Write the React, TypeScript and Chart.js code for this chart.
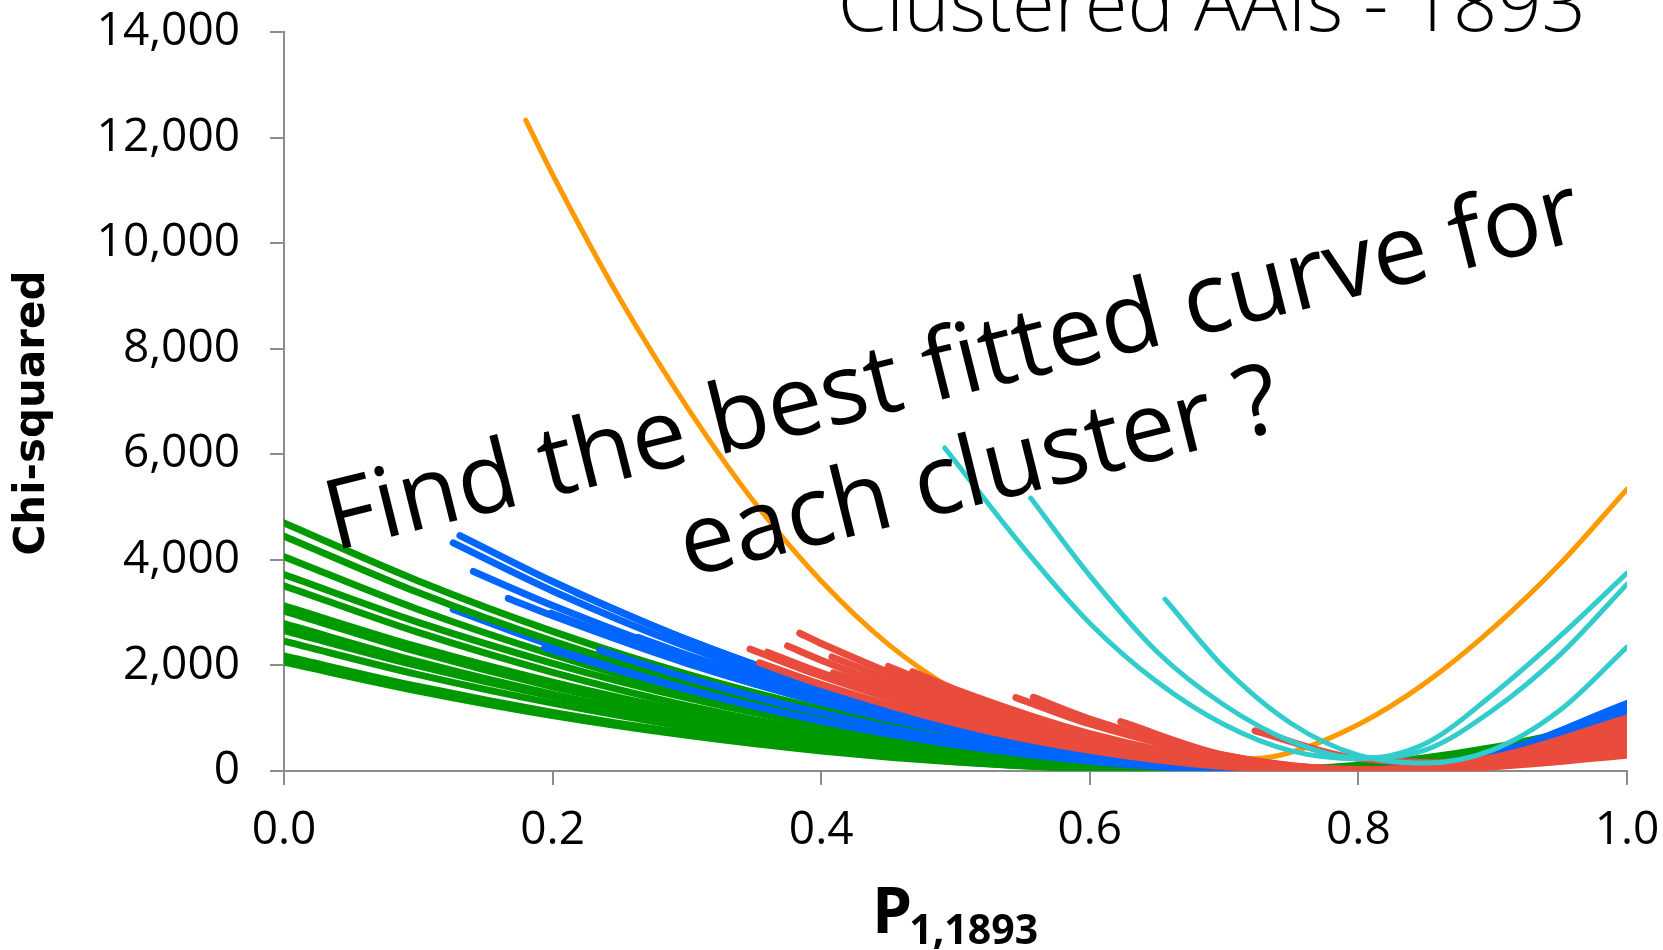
import React, { useEffect, useRef } from "react";
import { Chart, registerables } from "chart.js";

Chart.register(...registerables);

// ---------- Text ----------
const chartTitle = "Clustered AAIs - 1893";
const yAxisTitle = "Chi-squared";
const xAxisTitleMain = "P";
const xAxisTitleSub = "1,1893";
const overlayLines = ["Find the best fitted curve for", "each cluster ?"];

// ---------- Axes ----------
const xMin = 0;
const xMax = 1;
const xStep = 0.2;
const yMin = 0;
const yMax = 14000;
const yStep = 2000;

// ---------- Green cluster (all start at P = 0) ----------
const greenX = [0, 0.1, 0.2, 0.3, 0.4, 0.5, 0.6, 0.7, 0.8, 0.9, 1.0];
const greenY = [
  [4700, 3600, 2645, 1835, 1175, 660, 295, 75, 20, 175, 700],
  [4450, 3380, 2460, 1690, 1055, 575, 235, 50, 20, 340, 1150],
  [4060, 3060, 2205, 1485, 910, 475, 180, 30, 25, 205, 600],
  [3720, 2815, 2040, 1385, 860, 460, 180, 35, 20, 260, 820],
  [3510, 2625, 1870, 1240, 740, 370, 125, 15, 30, 190, 500],
  [3130, 2350, 1685, 1125, 680, 345, 125, 20, 30, 235, 650],
  [3030, 2255, 1595, 1050, 620, 300, 95, 10, 60, 355, 900],
  [2790, 2070, 1455, 950, 550, 260, 80, 10, 40, 185, 450],
  [2660, 1990, 1415, 940, 560, 280, 95, 15, 30, 210, 560],
  [2460, 1825, 1285, 835, 485, 230, 70, 10, 55, 290, 700],
  [2180, 1600, 1110, 710, 400, 180, 45, 10, 110, 445, 1000],
  [2060, 1515, 1050, 675, 380, 170, 45, 10, 60, 230, 520],
];

// ---------- Blue cluster ----------
const blueStartX = [0.131, 0.126, 0.141, 0.167, 0.199, 0.218, 0.264, 0.194, 0.235, 0.126];
const blueStartY = [4460, 4320, 3780, 3270, 2990, 3370, 2530, 2340, 2290, 3060];
const blueX = [0.2, 0.3, 0.4, 0.5, 0.6, 0.7, 0.8, 0.9, 1.0];
const blueY = [
  [3590, 2490, 1595, 895, 400, 100, 20, 320, 1280],
  [3410, 2355, 1490, 825, 355, 80, 25, 335, 1240],
  [3135, 2175, 1395, 785, 350, 90, 20, 275, 1100],
  [2940, 2040, 1305, 735, 325, 80, 20, 115, 460],
  [null, 2055, 1300, 720, 310, 70, 20, 245, 900],
  [null, 2490, 1590, 895, 400, 100, 20, 150, 600],
  [null, 2200, 1410, 795, 350, 90, 20, 250, 1000],
  [2290, 1545, 945, 495, 185, 30, 20, 130, 380],
  [null, 1765, 1095, 585, 230, 40, 20, 240, 750],
  [2375, 1590, 965, 490, 175, 20, 20, 180, 500],
];

// ---------- Red cluster ----------
const redStartX = [0.347, 0.36, 0.375, 0.384, 0.354, 0.408, 0.409, 0.45, 0.468, 0.545, 0.558, 0.623, 0.723];
const redStartY = [2310, 2250, 2370, 2610, 2050, 2160, 1860, 1980, 1880, 1390, 1395, 934, 760];
const redX = [0.4, 0.5, 0.6, 0.7, 0.8, 0.9, 1.0];
const redY = [
  [1800, 1015, 450, 115, 20, 250, 1000],
  [1860, 1045, 465, 115, 20, 232, 930],
  [2100, 1180, 525, 130, 20, 180, 720],
  [2415, 1380, 635, 175, 20, 175, 780],
  [1640, 905, 390, 85, 20, 95, 340],
  [null, 1265, 560, 140, 20, 163, 650],
  [null, 1075, 460, 105, 20, 80, 300],
  [null, 1470, 675, 185, 20, 125, 560],
  [null, 1545, 710, 195, 20, 94, 420],
  [null, null, 890, 265, 30, 174, 880],
  [null, null, 985, 295, 30, 140, 700],
  [null, null, null, 300, 20, 95, 380],
  [null, null, null, null, 240, 150, 450],
];

// ---------- Orange (single curve) ----------
const orangeX = [0.18, 0.2, 0.25, 0.3, 0.35, 0.4, 0.45, 0.5, 0.55, 0.6, 0.65, 0.7, 0.72, 0.75, 0.8, 0.85, 0.9, 0.95, 1.0];
const orangeY = [12330, 11300, 8950, 6900, 5100, 3600, 2400, 1520, 900, 510, 300, 235, 230, 355, 880, 1670, 2700, 3920, 5340];

// ---------- Cyan cluster ----------
const cyan1X = [0.492, 0.55, 0.6, 0.65, 0.7, 0.75, 0.8, 0.85, 0.9, 0.95, 1.0];
const cyan1Y = [6120, 4250, 2800, 1690, 880, 380, 230, 520, 1450, 2550, 3750];
const cyan2X = [0.556, 0.6, 0.65, 0.7, 0.75, 0.8, 0.85, 0.9, 0.95, 1.0];
const cyan2Y = [5170, 3700, 2260, 1250, 560, 250, 400, 1150, 2200, 3540];
const cyan3X = [0.656, 0.7, 0.75, 0.8, 0.85, 0.9, 0.95, 1.0];
const cyan3Y = [3255, 1960, 900, 300, 150, 400, 1150, 2350];

// ---------- Styles ----------
const GREEN = "#009900";
const BLUE = "#0066ff";
const RED = "#e94b3c";
const ORANGE = "#ff9900";
const CYAN = "#33cccc";
const AXIS = "#8c8c8c";
const TICK_FONT = { family: "'Open Sans', 'Noto Sans', sans-serif", size: 46, weight: "normal" as const };

const lineStyle = {
  pointRadius: 0,
  pointHoverRadius: 0,
  fill: false,
  cubicInterpolationMode: "monotone" as const,
  borderCapStyle: "round" as const,
  borderJoinStyle: "round" as const,
};

function pts(xs: number[], ys: (number | null)[]) {
  const out: { x: number; y: number }[] = [];
  xs.forEach((x, i) => {
    const y = ys[i];
    if (y !== null && y !== undefined) out.push({ x, y });
  });
  return out;
}

function buildDatasets() {
  const ds: any[] = [];
  greenY.forEach((row, i) => {
    ds.push({ ...lineStyle, label: `Green ${i + 1}`, data: pts(greenX, row), borderColor: GREEN, borderWidth: 7, order: 5 });
  });
  blueY.forEach((row, i) => {
    const grid = pts(blueX, row).filter((p) => p.x > blueStartX[i]);
    // the last blue curve sits behind the green bundle
    const order = i === blueY.length - 1 ? 6 : 4;
    ds.push({ ...lineStyle, label: `Blue ${i + 1}`, data: [{ x: blueStartX[i], y: blueStartY[i] }, ...grid], borderColor: BLUE, borderWidth: 7, order });
  });
  ds.push({ ...lineStyle, label: "Orange", data: pts(orangeX, orangeY), borderColor: ORANGE, borderWidth: 5, order: 3 });
  redY.forEach((row, i) => {
    const grid = pts(redX, row).filter((p) => p.x > redStartX[i]);
    ds.push({ ...lineStyle, label: `Red ${i + 1}`, data: [{ x: redStartX[i], y: redStartY[i] }, ...grid], borderColor: RED, borderWidth: 7, order: 2 });
  });
  [
    [cyan1X, cyan1Y],
    [cyan2X, cyan2Y],
    [cyan3X, cyan3Y],
  ].forEach(([xs, ys], i) => {
    ds.push({ ...lineStyle, label: `Cyan ${i + 1}`, data: pts(xs as number[], ys as number[]), borderColor: CYAN, borderWidth: 5, order: 1 });
  });
  return ds;
}

const textPlugin = {
  id: "extraText",
  afterDraw(chart: any) {
    const ctx: CanvasRenderingContext2D = chart.ctx;
    ctx.save();
    ctx.fillStyle = "#000";

    // Chart title (partly cut off at the top)
    ctx.textAlign = "center";
    ctx.textBaseline = "alphabetic";
    ctx.font = "300 60px 'Open Sans', sans-serif";
    const tw = ctx.measureText(chartTitle).width;
    const tSize = (60 * 748) / tw;
    ctx.font = `300 ${tSize}px 'Open Sans', sans-serif`;
    ctx.fillText(chartTitle, 1212, 31);

    // Y axis title (rotated)
    ctx.save();
    ctx.translate(33, 413);
    ctx.rotate(-Math.PI / 2);
    ctx.textAlign = "center";
    ctx.textBaseline = "middle";
    ctx.font = "bold 42px 'DejaVu Sans', sans-serif";
    ctx.fillText(yAxisTitle, 0, 0);
    ctx.restore();

    // X axis title with subscript
    ctx.textAlign = "left";
    ctx.font = "bold 64px 'Open Sans', sans-serif";
    ctx.fillText(xAxisTitleMain, 872, 933);
    const pw = ctx.measureText(xAxisTitleMain).width;
    ctx.font = "bold 41px 'Open Sans', sans-serif";
    ctx.fillText(xAxisTitleSub, 872 + pw - 3, 944);

    // Rotated overlay text
    ctx.translate(960, 395);
    ctx.rotate((-14 * Math.PI) / 180);
    ctx.textAlign = "center";
    ctx.font = "400 90px 'Open Sans', sans-serif";
    const lw = ctx.measureText(overlayLines[0]).width;
    const oSize = (90 * 1290) / lw;
    ctx.font = `400 ${oSize}px 'Open Sans', sans-serif`;
    ctx.fillText(overlayLines[0], 0, 0);
    ctx.fillText(overlayLines[1], 0, 111);
    ctx.restore();
  },
};

export default function App() {
  const canvasRef = useRef<HTMLCanvasElement>(null);

  useEffect(() => {
    document.body.style.margin = "0";
    const canvas = canvasRef.current;
    if (!canvas) return;
    const chart = new Chart(canvas, {
      type: "line",
      data: { datasets: buildDatasets() },
      options: {
        responsive: false,
        animation: false,
        devicePixelRatio: 1,
        layout: { padding: { top: 32, right: 36, left: 0, bottom: 0 } },
        plugins: {
          legend: { display: false },
          tooltip: { enabled: false },
          title: { display: false },
        },
        scales: {
          x: {
            type: "linear",
            min: xMin,
            max: xMax,
            ticks: {
              stepSize: xStep,
              autoSkip: false,
              maxRotation: 0,
              padding: 18,
              color: "#000",
              font: TICK_FONT,
              callback: (v: any) => Number(v).toFixed(1),
            },
            grid: { drawOnChartArea: false, drawTicks: true, tickLength: 14, color: AXIS, lineWidth: 2 },
            border: { display: true, color: AXIS, width: 2 },
            afterFit: (s: any) => {
              s.height = 179;
              s.paddingLeft = 0;
              s.paddingRight = 0;
            },
          },
          y: {
            type: "linear",
            min: yMin,
            max: yMax,
            ticks: {
              stepSize: yStep,
              padding: 30,
              color: "#000",
              font: TICK_FONT,
              callback: (v: any) => Number(v).toLocaleString("en-US"),
            },
            grid: { drawOnChartArea: false, drawTicks: true, tickLength: 14, color: AXIS, lineWidth: 2 },
            border: { display: true, color: AXIS, width: 2 },
            afterFit: (s: any) => {
              s.width = 284;
              s.paddingTop = 0;
              s.paddingBottom = 0;
            },
          },
        },
      },
      plugins: [textPlugin],
    } as any);
    return () => chart.destroy();
  }, []);

  return (
    <div style={{ width: 1663, height: 950, overflow: "hidden", background: "#fff" }}>
      <canvas ref={canvasRef} width={1663} height={950} style={{ display: "block" }} />
    </div>
  );
}
